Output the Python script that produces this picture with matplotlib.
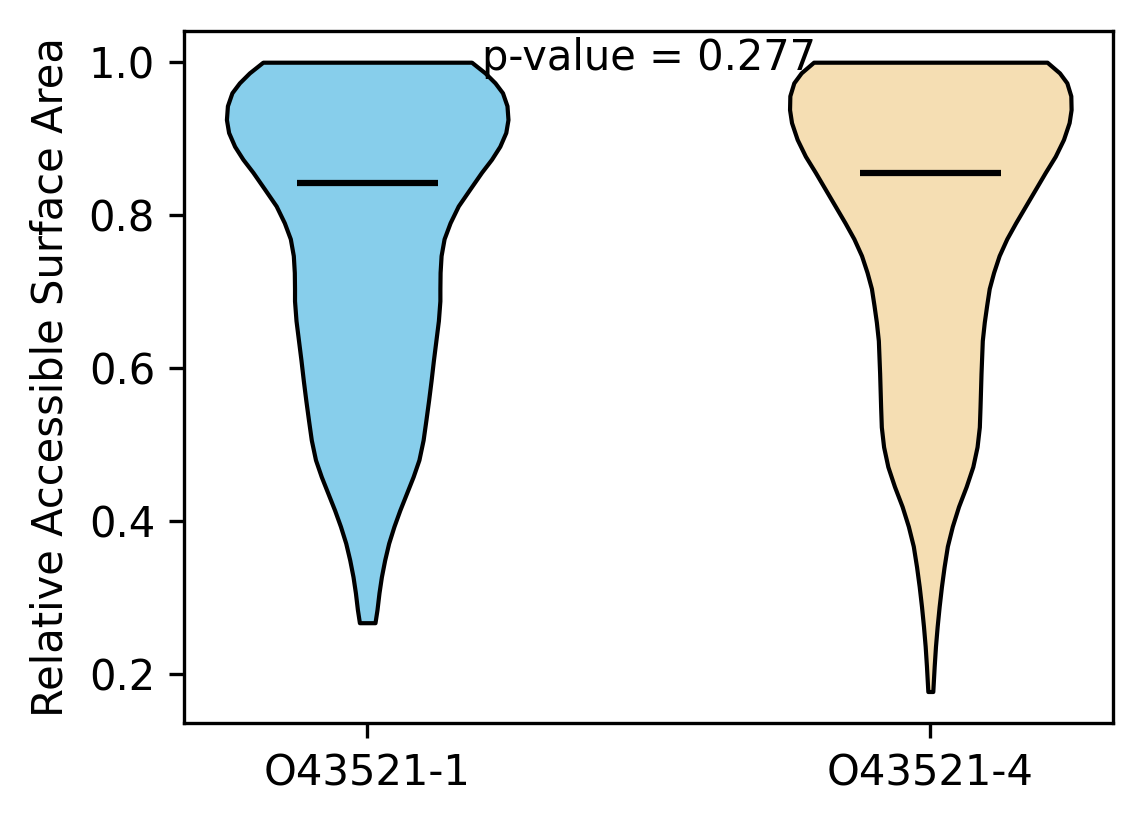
import numpy as np
import matplotlib
matplotlib.use("Agg")
import matplotlib.pyplot as plt

categories = ["O43521-1", "O43521-4"]
colors = ["#87CEEB", "#F5DEB3"]
p_value = 0.277

# Density profile (y value, relative density)
y_grid_1 = [1.0, 0.986, 0.973, 0.960, 0.943, 0.925, 0.908, 0.890, 0.873, 0.856,
            0.834, 0.812, 0.790, 0.769, 0.747, 0.725, 0.704, 0.688, 0.662, 0.636,
            0.610, 0.584, 0.558, 0.532, 0.506, 0.480, 0.458, 0.436, 0.414, 0.393,
            0.371, 0.349, 0.327, 0.306, 0.284, 0.267]
density_1 = [104.5, 118, 128, 135.5, 140, 141, 138.8, 132.8, 124.5, 114.5,
             102.8, 91.2, 83, 77, 74, 73, 72.8, 72.8, 71.3, 68.8,
             66.3, 64, 61.5, 58.8, 56, 51.8, 46, 39.3, 32.6, 26.8,
             21.5, 17.5, 14.2, 11.8, 9.8, 7.8]

y_grid_2 = [1.0, 0.986, 0.973, 0.956, 0.938, 0.921, 0.899, 0.877, 0.856, 0.834,
            0.812, 0.790, 0.769, 0.747, 0.725, 0.704, 0.682, 0.660, 0.636, 0.593,
            0.549, 0.523, 0.497, 0.471, 0.445, 0.419, 0.393, 0.367, 0.340, 0.314,
            0.288, 0.262, 0.236, 0.210, 0.177]
density_2 = [117.9, 130.5, 137.9, 141.9, 142.2, 140.2, 134.5, 126.2, 116.2, 106.2,
             96.2, 86.2, 77.2, 69.5, 63.9, 59.5, 56.9, 54.5, 52.5, 51.2,
             50.2, 49.5, 47.2, 42.9, 36.2, 28.5, 22.2, 17.2, 13.9, 11.2,
             8.9, 6.9, 5.2, 3.9, 2.5]

means = [0.8425, 0.8556]
medians = [0.90, 0.91]
mins = [0.267, 0.177]
maxs = [1.0, 1.0]

vpstats = []
for yg, dens, mn, md, lo, hi in zip([y_grid_1, y_grid_2], [density_1, density_2],
                                    means, medians, mins, maxs):
    vpstats.append({"coords": np.array(yg)[::-1], "vals": np.array(dens)[::-1],
                    "mean": mn, "median": md, "min": lo, "max": hi})

fig = plt.figure(figsize=(1144 / 300, 824 / 300), dpi=300)
ax = fig.add_axes([0.161, 0.1226, 0.9732 - 0.161, 0.9627 - 0.1226])

parts = ax.violin(vpstats, positions=[1, 2], widths=0.5, showmeans=True,
                  showextrema=False, showmedians=False)
for body, c in zip(parts["bodies"], colors):
    body.set_facecolor(c)
    body.set_edgecolor("black")
    body.set_linewidth(1.0)
    body.set_alpha(1)
parts["cmeans"].set_color("black")
parts["cmeans"].set_linewidth(1.5)

ax.set_xticks([1, 2])
ax.set_xticklabels(categories, fontsize=10)
ax.tick_params(axis="y", labelsize=10)
ax.set_ylabel("Relative Accessible Surface Area", fontsize=10)
ax.text(1.5, 1.005, f"p-value = {p_value}", ha="center", va="center", fontsize=10)

fig.savefig("out.png", dpi=300)
